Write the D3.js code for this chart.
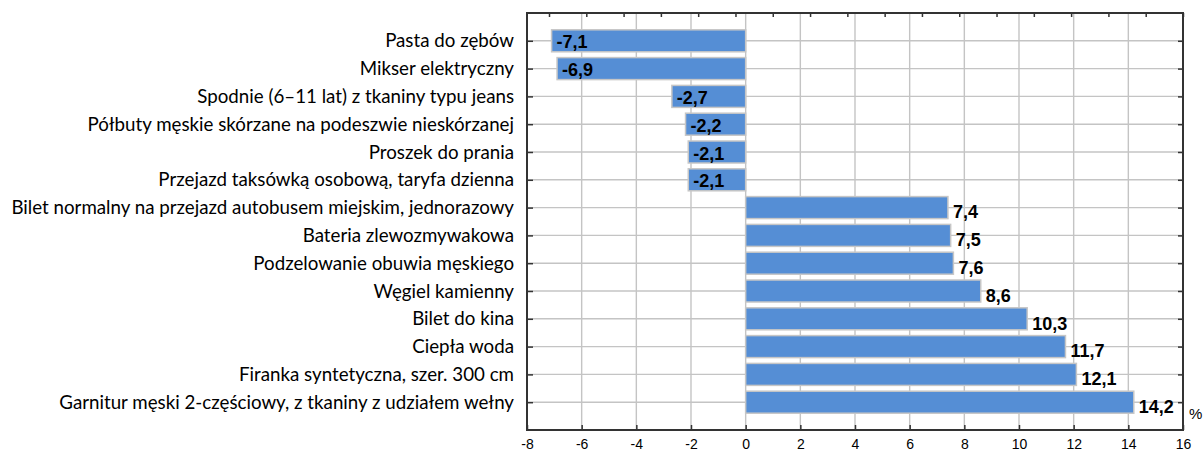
<!DOCTYPE html>
<html>
<head>
<meta charset="utf-8">
<script src="https://cdn.jsdelivr.net/npm/d3@7"></script>
<style>
  body { margin: 0; background: #fff; }
  svg { display: block; }
  .cat { font-family: Lato, "Open Sans", sans-serif; fill: #000; }
  .val { font-family: "Liberation Sans", Arial, sans-serif; font-weight: bold; font-size: 18px; fill: #000; }
  .tick text { font-family: "Liberation Sans", Arial, sans-serif; font-size: 14px; fill: #000; }
</style>
</head>
<body>
<svg width="1204" height="452"></svg>
<script>
// categories from top to bottom
var categories = [
  "Pasta do zębów",
  "Mikser elektryczny",
  "Spodnie (6–11 lat) z tkaniny typu jeans",
  "Półbuty męskie skórzane na podeszwie nieskórzanej",
  "Proszek do prania",
  "Przejazd taksówką osobową, taryfa dzienna",
  "Bilet normalny na przejazd autobusem miejskim, jednorazowy",
  "Bateria zlewozmywakowa",
  "Podzelowanie obuwia męskiego",
  "Węgiel kamienny",
  "Bilet do kina",
  "Ciepła woda",
  "Firanka syntetyczna, szer. 300 cm",
  "Garnitur męski 2-częściowy, z tkaniny z udziałem wełny"
];
var values = [-7.1, -6.9, -2.7, -2.2, -2.1, -2.1, 7.4, 7.5, 7.6, 8.6, 10.3, 11.7, 12.1, 14.2];
var xTicks = [-8, -6, -4, -2, 0, 2, 4, 6, 8, 10, 12, 14, 16];

var svg = d3.select("svg");

var box = { left: 527, right: 1183, top: 13, bottom: 430 };

var x = d3.scaleLinear().domain([-8, 16]).range([box.left, box.right]);
// the top frame carries its own tick spacing, unrelated to the data axis
var xTop = d3.scaleLinear().domain([-0.59, 17]).range([box.left, box.right]);
var y = d3.scalePoint().domain(categories).range([box.top, box.bottom]).padding(1);

var g = {
  grid: svg.append("g").attr("id", "grid"),
  bars: svg.append("g").attr("id", "bars"),
  axes: svg.append("g").attr("id", "axes"),
  labels: svg.append("g").attr("id", "labels")
};

// gridlines
g.grid.selectAll("line.v")
  .data(xTicks.slice(1, -1))
  .enter()
  .append("line")
  .attr("class", "v")
  .attr("x1", function(d) { return x(d); })
  .attr("x2", function(d) { return x(d); })
  .attr("y1", box.top)
  .attr("y2", box.bottom)
  .style("stroke", "#c4c4c4")
  .style("stroke-width", 1.4);

g.grid.selectAll("line.h")
  .data(categories)
  .enter()
  .append("line")
  .attr("class", "h")
  .attr("x1", box.left)
  .attr("x2", box.right)
  .attr("y1", function(d) { return y(d); })
  .attr("y2", function(d) { return y(d); })
  .style("stroke", "#c4c4c4")
  .style("stroke-width", 1.4);

// bars
var barH = 22;
g.bars.selectAll("rect")
  .data(values)
  .enter()
  .append("rect")
  .attr("x", function(d) { return x(Math.min(0, d)); })
  .attr("y", function(d, i) { return y(categories[i]) - barH / 2; })
  .attr("width", function(d) { return Math.abs(x(d) - x(0)); })
  .attr("height", barH)
  .style("fill", "#558ed5")
  .style("stroke", "#c6c6c6")
  .style("stroke-width", 1.5);

// frame and axes
var bottomAxis = d3.axisBottom(x).tickValues(xTicks).tickSize(-5).tickPadding(9)
  .tickFormat(function(d) { return d; });
g.axes.append("g")
  .attr("transform", translate(0, box.bottom))
  .call(bottomAxis)
  .call(function(a) {
    a.select(".domain").remove();
    a.selectAll(".tick line").style("stroke", "#333").style("stroke-width", 1.5);
  });

var topAxis = d3.axisTop(xTop).tickValues(d3.range(0, 18)).tickSize(-4).tickFormat("");
g.axes.append("g")
  .attr("transform", translate(0, box.top))
  .call(topAxis)
  .call(function(a) {
    a.select(".domain").remove();
    a.selectAll(".tick line").style("stroke", "#333").style("stroke-width", 1.5);
  });

var leftAxis = d3.axisLeft(y).tickSize(-6).tickFormat("");
g.axes.append("g")
  .attr("transform", translate(box.left, 0))
  .call(leftAxis)
  .call(function(a) {
    a.select(".domain").remove();
    a.selectAll(".tick line").style("stroke", "#333").style("stroke-width", 1.5);
  });

var rightAxis = d3.axisRight(y).tickSize(-5).tickFormat("");
g.axes.append("g")
  .attr("transform", translate(box.right, 0))
  .call(rightAxis)
  .call(function(a) {
    a.select(".domain").remove();
    a.selectAll(".tick line").style("stroke", "#333").style("stroke-width", 1.5);
  });

g.axes.append("rect")
  .attr("x", box.left)
  .attr("y", box.top)
  .attr("width", box.right - box.left)
  .attr("height", box.bottom - box.top)
  .style("fill", "none")
  .style("stroke", "#333")
  .style("stroke-width", 2);

// category labels, sized so the longest one fills its space
var cats = g.labels.selectAll("text.cat")
  .data(categories)
  .enter()
  .append("text")
  .attr("class", "cat")
  .attr("x", 514)
  .attr("y", function(d) { return y(d); })
  .attr("dy", "0.35em")
  .attr("text-anchor", "end")
  .style("font-size", "16px")
  .text(function(d) { return d; });

var widest = d3.max(cats.nodes(), function(n) { return n.getComputedTextLength(); });
cats.style("font-size", (16 * 503 / widest) + "px");

// value labels
g.labels.selectAll("text.val")
  .data(values)
  .enter()
  .append("text")
  .attr("class", "val")
  .attr("x", function(d) { return x(d) + 5; })
  .attr("y", function(d, i) { return y(categories[i]); })
  .attr("dy", function(d) { return d < 0 ? "0.42em" : "0.6em"; })
  .text(function(d) { return String(d.toFixed(1)).replace(".", ","); });

g.labels.append("text")
  .attr("x", 1189)
  .attr("y", box.bottom - 16)
  .attr("dy", "0.35em")
  .style("font-family", "Liberation Sans, Arial, sans-serif")
  .style("font-size", "15px")
  .text("%");

function translate(x, y) {
  return "translate(" + String(x) + "," + String(y) + ")";
}
</script>
</body>
</html>
